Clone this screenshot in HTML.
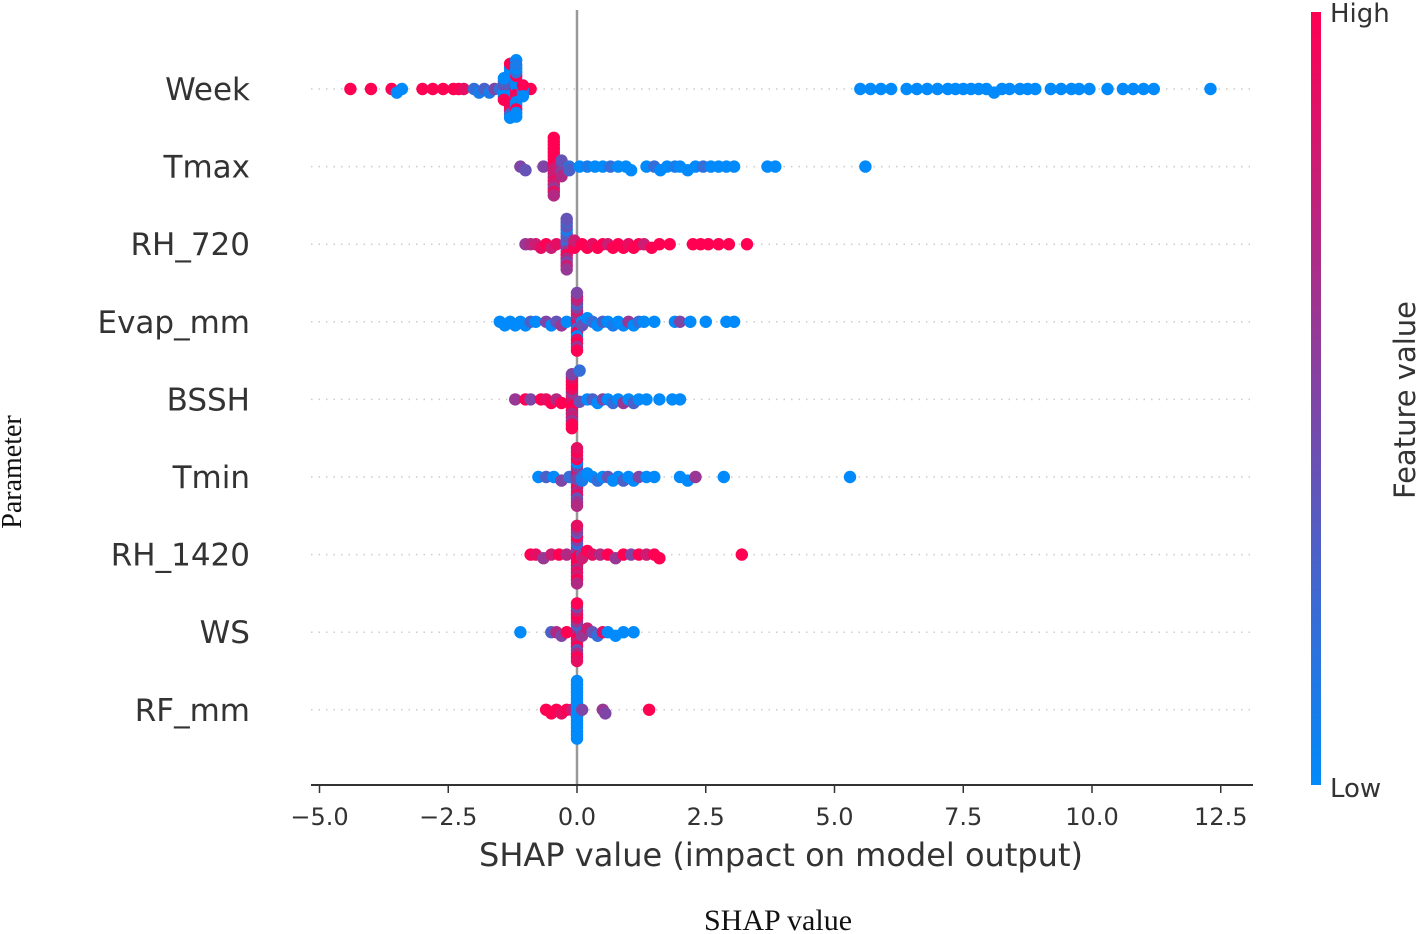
<!DOCTYPE html>
<html><head><meta charset="utf-8"><style>
body{margin:0;background:#fff;}
svg{display:block;}
text{font-family:"DejaVu Sans","Liberation Sans",sans-serif;fill:#333;}
.serif{font-family:"Liberation Serif",serif;fill:#111;}
</style></head><body>
<svg id="chart" width="1417" height="934" viewBox="0 0 1417 934" xmlns="http://www.w3.org/2000/svg">
<defs><linearGradient id="cb" x1="0" y1="1" x2="0" y2="0">
<stop offset="0" stop-color="#008afb"/><stop offset="0.5" stop-color="#7f45a6"/><stop offset="1" stop-color="#ff0052"/></linearGradient></defs>
<g id="grid"></g>
<line x1="577" y1="10" x2="577" y2="785" stroke="#999" stroke-width="2.5"/>
<g id="dots"></g>
<g id="axes"></g>
<rect x="1311" y="12" width="10" height="773" fill="url(#cb)"/>
<text x="1330" y="22" font-size="26">High</text>
<text x="1330" y="797" font-size="26">Low</text>
<text transform="translate(1415,400) rotate(-90)" text-anchor="middle" font-size="29">Feature value</text>
<text x="781" y="866" text-anchor="middle" font-size="32">SHAP value (impact on model output)</text>
<text class="serif" x="778" y="930" text-anchor="middle" font-size="30">SHAP value</text>
<text class="serif" transform="translate(21,472) rotate(-90)" text-anchor="middle" font-size="28">Parameter</text>
</svg>
<script>
const features = ["Week","Tmax","RH_720","Evap_mm","BSSH","Tmin","RH_1420","WS","RF_mm"];
const xTicks = [-5,-2.5,0,2.5,5,7.5,10,12.5];
const xTickLabels = ["\u22125.0","\u22122.5","0.0","2.5","5.0","7.5","10.0","12.5"];

const weekShap = [-4.4,-4.0,-3.6,-3.5,-3.4,-3.0,-2.8,-2.6,-2.4,-2.3,-2.2,-2.0,-1.9,-1.8,-1.7,-1.6,-1.5,-0.9,
 -1.3,-1.3,-1.3,-1.3,-1.3,-1.3,-1.3,-1.3,-1.3,-1.3,-1.3,-1.3,-1.3,-1.3,-1.3,-1.3,
 -1.18,-1.18,-1.18,-1.18,-1.18,-1.18,-1.18,-1.18,-1.18,-1.18,-1.18,-1.18,-1.18,-1.18,-1.18,-1.18,
 -1.42,-1.42,-1.42,-1.42,-1.42,-1.42,-1.05,-1.05,-1.05,-1.05,
 5.5,5.7,5.9,6.1,6.4,6.6,6.8,7.0,7.2,7.35,7.5,7.65,7.8,7.95,8.1,8.25,8.4,8.6,8.75,8.9,9.2,9.4,9.6,9.75,9.95,10.3,10.6,10.8,11.0,11.2,12.3];
const weekFeat = [1,1,1,0,0,1,1,1,1,1,0.9,0.2,0.1,0.3,0.1,0.5,0.2,1,
 1,0,1,0,0.8,0,1,0.2,0,1,0,0.9,0,0.3,1,0,
 0,1,0,1,0,0.9,0,0,1,0,0.2,1,0,0,0.1,0,
 0,0.4,0,0.3,1,0,0,0.2,1,0,
 0,0,0,0,0,0,0,0,0,0,0,0,0,0,0,0,0,0,0,0,0,0,0,0,0,0,0,0,0,0,0];

const tmaxShap = [-1.1,-1.0,-0.65,
 -0.45,-0.45,-0.45,-0.45,-0.45,-0.45,-0.45,-0.45,-0.45,-0.45,-0.45,-0.45,-0.45,-0.45,-0.45,-0.45,-0.45,-0.45,-0.3,-0.3,-0.3,-0.3,-0.15,-0.15,
 0.05,0.2,0.35,0.5,0.65,0.8,0.95,1.05,1.35,1.5,1.62,1.75,1.9,2.0,2.15,2.3,2.45,2.6,2.75,2.9,3.05,3.7,3.85,5.6];
const tmaxFeat = [0.5,0.4,0.5,
 1,0.8,1,0.9,1,0.7,1,0.9,1,0.8,1,0.6,1,0.9,1,0.7,1,0.8,0.6,0.5,0.4,0.7,0.2,0.3,
 0,0.1,0,0,0.2,0,0,0,0,0.2,0,0,0.1,0,0,0,0.2,0,0,0,0,0,0,0];

const rh720Shap = [-1.0,-0.9,-0.8,-0.7,-0.6,-0.5,-0.4,
 -0.2,-0.2,-0.2,-0.2,-0.2,-0.2,-0.2,-0.2,-0.2,-0.2,-0.2,-0.2,-0.2,-0.2,-0.2,-0.05,-0.05,-0.05,
 0.1,0.2,0.3,0.4,0.5,0.6,0.7,0.8,0.9,1.0,1.1,1.2,1.3,1.45,1.6,1.8,2.25,2.4,2.55,2.75,2.95,3.3];
const rh720Feat = [0.6,0.7,0.8,0.9,1,0.8,0.9,
 0.3,0.5,0.2,0.6,0.4,1,0.3,0.7,0.1,0.5,0.4,0.8,0.3,0.6,0.4,0.9,1,0.8,
 1,1,0.9,1,1,0.8,1,1,1,0.9,1,1,0.8,1,1,1,1,1,1,1,1,1];

const evapShap = [-1.5,-1.4,-1.3,-1.2,-1.1,-1.0,-0.9,-0.8,-0.6,-0.5,-0.4,-0.3,-0.2,
 0,0,0,0,0,0,0,0,0,0,0,0,0,0,0,0,0,0.1,0.1,
 0.2,0.3,0.4,0.5,0.6,0.7,0.8,0.9,1.0,1.1,1.2,1.3,1.5,1.9,2.0,2.2,2.5,2.9,3.05];
const evapFeat = [0,0,0,0,0,0,0.3,0,0.5,0,0.4,0.6,0,
 1,0.7,0.9,0.2,0.6,1,0.8,0,0.5,0.9,0.3,1,0.7,0.6,0.8,1,0.5,0,0.4,
 0,0.2,0,0.3,0,0.1,0,0,0.6,0,0.2,0,0,0,0.5,0,0,0,0];

const bsshShap = [-1.2,-1.0,-0.9,-0.7,-0.6,-0.5,-0.4,-0.3,
 -0.1,-0.1,-0.1,-0.1,-0.1,-0.1,-0.1,-0.1,-0.1,-0.1,-0.1,-0.1,-0.1,-0.1,-0.1,-0.1,0.05,0.05,
 0.2,0.3,0.4,0.5,0.6,0.7,0.8,0.9,1.0,1.1,1.2,1.35,1.6,1.85,2.0];
const bsshFeat = [0.6,1,0.5,1,0.9,1,0.7,1,
 1,0.9,0.8,1,0.6,1,0.9,0.7,1,0.8,1,0.6,0.9,1,0.5,1,0.2,0.4,
 0,0.3,0,0.5,0,0.2,0,0.6,0,0.3,0,0,0,0,0];

const tminShap = [-0.75,-0.6,-0.45,-0.3,-0.15,
 0,0,0,0,0,0,0,0,0,0,0,0,0,0,0,0,0,0,0.1,0.1,
 0.2,0.3,0.4,0.5,0.6,0.7,0.8,0.9,1.0,1.1,1.2,1.35,1.5,2.0,2.15,2.3,2.85,5.3];
const tminFeat = [0,0.3,0,0.5,0.2,
 1,0.6,0.9,0.3,0.8,1,0.5,0.7,0,0.9,1,0.4,0.8,0.6,1,0.7,0.9,0.5,0.2,0.1,
 0,0,0.2,0,0.4,0,0,0.3,0,0,0.5,0,0,0,0,0.6,0,0];

const rh1420Shap = [-0.9,-0.8,-0.65,-0.5,-0.35,-0.2,
 0,0,0,0,0,0,0,0,0,0,0,0,0,0,0,0,0,0,0.1,0.1,
 0.2,0.3,0.45,0.6,0.75,0.9,1.05,1.2,1.35,1.5,1.6,3.2];
const rh1420Feat = [1,0.9,0.6,0.8,1,0.7,
 0.8,1,0.3,0.9,0.6,1,0.2,0.7,0.5,0.9,1,0.8,0.4,1,0.6,0.7,0.9,1,0.5,0.8,
 1,0.9,0.7,1,0.6,1,0.5,1,0.8,1,1,1];

const wsShap = [-1.1,-0.5,-0.4,-0.3,-0.2,
 0,0,0,0,0,0,0,0,0,0,0,0,0,0,0,0,0,0.1,0.1,
 0.2,0.3,0.4,0.5,0.6,0.75,0.9,1.1];
const wsFeat = [0,0.3,0.7,0.5,1,
 1,0.9,0.7,1,0.3,0.8,0.6,1,0.9,0.4,1,0.7,0.8,1,0.5,0.9,1,0.3,0.6,
 0.8,0.4,0.2,0.9,0,0,0,0];

const rfShap = [-0.6,-0.5,-0.4,-0.3,-0.2,-0.1,
 0,0,0,0,0,0,0,0,0,0,0,0,0,0,0,0,0,0,0,
 0.1,0.5,0.55,1.4];
const rfFeat = [1,1,1,0.9,1,0.8,
 0,0,0,0,0,0,0,0,0,0,0,0,0,0,0,0,0,0,0,
 0.5,0.6,0.5,1];

const shapRows = [weekShap,tmaxShap,rh720Shap,evapShap,bsshShap,tminShap,rh1420Shap,wsShap,rfShap];
const featRows = [weekFeat,tmaxFeat,rh720Feat,evapFeat,bsshFeat,tminFeat,rh1420Feat,wsFeat,rfFeat];

const NS = "http://www.w3.org/2000/svg";
const x0 = 577, pxPerUnit = 51.5;
const xScale = v => x0 + v * pxPerUnit;
const yTop = 89, rowStep = 77.6;
const yScale = i => yTop + i * rowStep;

function colorFor(f){
  const lo=[0,138,251], mid=[127,69,166], hi=[255,0,82];
  let a,b,t;
  if(f<0.5){a=lo;b=mid;t=f/0.5;} else {a=mid;b=hi;t=(f-0.5)/0.5;}
  const c=a.map((v,k)=>Math.round(v+(b[k]-v)*t));
  return `rgb(${c[0]},${c[1]},${c[2]})`;
}

const grid=document.getElementById('grid');
const dots=document.getElementById('dots');
const axes=document.getElementById('axes');

features.forEach((name,i)=>{
  const y=yScale(i);
  const gl=document.createElementNS(NS,'line');
  
  
  gl.setAttribute('x1',311);gl.setAttribute('x2',1252);
  gl.setAttribute('y1',y);gl.setAttribute('y2',y);
  gl.setAttribute('stroke','#ccc');gl.setAttribute('stroke-width','1.5');
  gl.setAttribute('stroke-dasharray','1.5 6');
  grid.appendChild(gl);

  const lb=document.createElementNS(NS,'text');
  
  
  lb.setAttribute('x',250);lb.setAttribute('y',y+11);
  lb.setAttribute('text-anchor','end');lb.setAttribute('font-size','31');
  lb.textContent=name;
  axes.appendChild(lb);

  const vals=shapRows[i], fv=featRows[i];
  const bins={};
  vals.forEach((v,k)=>{
    const px=xScale(v);
    const b=Math.round(px/9);
    const n=bins[b]||0; bins[b]=n+1;
    let off = n===0?0:(n%2?1:-1)*Math.ceil(n/2)*3.6;
    if(Math.abs(off)>30) off = off%30;
    const c=document.createElementNS(NS,'circle');
    
    
    c.setAttribute('cx',px.toFixed(1));
    c.setAttribute('cy',(y+off).toFixed(1));
    c.setAttribute('r','6.2');
    c.setAttribute('fill',colorFor(fv[k]));
    dots.appendChild(c);
  });
});

const ax=document.createElementNS(NS,'line');


ax.setAttribute('x1',311);ax.setAttribute('x2',1253);
ax.setAttribute('y1',785);ax.setAttribute('y2',785);
ax.setAttribute('stroke','#333');ax.setAttribute('stroke-width','2');
axes.appendChild(ax);
xTicks.forEach((t,k)=>{
  const x=xScale(t);
  const tk=document.createElementNS(NS,'line');
  
  
  tk.setAttribute('x1',x);tk.setAttribute('x2',x);
  tk.setAttribute('y1',785);tk.setAttribute('y2',793);
  tk.setAttribute('stroke','#333');tk.setAttribute('stroke-width','1.5');
  axes.appendChild(tk);
  const tl=document.createElementNS(NS,'text');
  
  
  tl.setAttribute('x',x);tl.setAttribute('y',825);
  tl.setAttribute('text-anchor','middle');tl.setAttribute('font-size','24');
  tl.textContent=xTickLabels[k];
  axes.appendChild(tl);
});
</script>
</body></html>
